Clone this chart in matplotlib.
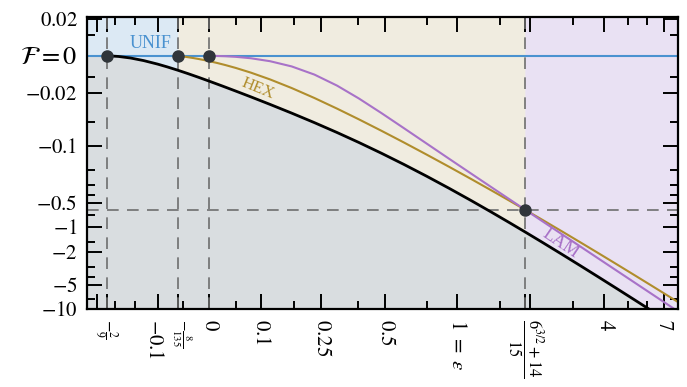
import numpy as np
import matplotlib
matplotlib.use('Agg')
from matplotlib import pyplot as plt
from matplotlib.ticker import FixedLocator, FixedFormatter
from matplotlib.transforms import ScaledTranslation

plt.rcParams['font.family'] = ['Liberation Serif', 'DejaVu Serif']
plt.rcParams['mathtext.fontset'] = 'stix'

# --- curves (epsilon, free energy) ---
black_x = [-0.2222, -0.21, -0.19, -0.16, -0.13, -0.1, -0.08, -0.0593, -0.04, -0.02, 0, 0.025, 0.05, 0.08, 0.12,
           0.17, 0.23, 0.3, 0.38, 0.48, 0.6, 0.75, 0.93, 1.15, 1.4, 1.65, 1.913, 2.25, 2.7, 3.2, 3.8, 4.5, 5.3,
           6.2, 7.1, 8.0]
black_y = [0, -3.735e-05, -0.0002596, -0.0009679, -0.002126, -0.003735, -0.005057, -0.006636, -0.008301,
           -0.01022, -0.01235, -0.01528, -0.01853, -0.02283, -0.02928, -0.03846, -0.05113, -0.06818, -0.09067,
           -0.1233, -0.169, -0.2363, -0.3319, -0.4707, -0.6579, -0.8763, -1.14, -1.528, -2.135, -2.928, -4.045,
           -5.575, -7.624, -10.31, -13.4, -16.9]

hex_x = [-0.0593, -0.05, -0.04, -0.03, -0.02, -0.01, 0, 0.015, 0.03, 0.05, 0.08, 0.12, 0.17, 0.23, 0.3, 0.38,
         0.48, 0.6, 0.75, 0.93, 1.15, 1.4, 1.65, 1.913, 2.25, 2.7, 3.2, 3.8, 4.5, 5.3, 6.2, 7.1, 8.0]
hex_y = [0, -0.00025, -0.0005783, -0.0009586, -0.001386, -0.001857, -0.00237, -0.003215, -0.004145, -0.005512,
         -0.007826, -0.01138, -0.01654, -0.02373, -0.03347, -0.04631, -0.06485, -0.09066, -0.1283, -0.181,
         -0.2565, -0.3568, -0.4723, -0.6099, -0.8102, -1.119, -1.517, -2.07, -2.818, -3.808, -5.091, -6.553, -8.192]

lam_x = [0, 0.015, 0.03, 0.05, 0.08, 0.12, 0.17, 0.23, 0.3, 0.38, 0.48, 0.6, 0.75, 0.93, 1.15, 1.4, 1.65, 1.913,
         2.25, 2.7, 3.2, 3.8, 4.5, 5.3, 6.2, 7.1, 7.75, 8.0]
lam_y = [0, -3.75e-05, -0.00015, -0.0004167, -0.001067, -0.0024, -0.004817, -0.008817, -0.015, -0.02407, -0.0384,
         -0.06, -0.09375, -0.1442, -0.2204, -0.3267, -0.4537, -0.6099, -0.8438, -1.215, -1.707, -2.407, -3.375,
         -4.682, -6.407, -8.402, -10.01, -10.67]

# transition points
trans_x = [-2 / 9, -8 / 135, 0, (6**1.5 + 14) / 15]
trans_y = [0, 0, 0, -0.6099]

x_major = [-0.25, -2 / 9, -0.1, -8 / 135, 0, 0.1, 0.25, 0.5, 1, (6**1.5 + 14) / 15, 2, 4, 7]
x_labels = ['', r'$-\frac{2}{9}$', r'$-0.1$', r'$-\frac{8}{135}$', r'$0$', r'$0.1$', r'$0.25$', r'$0.5$',
            r'$1\ =\ \epsilon$', r'$\frac{6^{3/2}+14}{15}$', '', r'$4$', r'$7$']
x_minor = [-0.2, -0.15, -0.05, 0.05, 0.175, 0.375, 0.75, 1.5, 3, 5, 6]

y_major = [0.02, 0, -0.02, -0.1, -0.5, -1, -2, -5, -10]
y_labels = [r'$0.02$', r'$\mathcal{F}=0$', r'$-0.02$', r'$-0.1$', r'$-0.5$', r'$-1$', r'$-2$', r'$-5$', r'$-10$']
y_minor = [0.01, -0.01, -0.05, -0.2, -0.3, -0.4, -0.7, -1.5, -3, -4, -7.5]

XMIN, XMAX = -0.28, 8
YMIN, YMAX = -10, 0.021

C_UNIF = '#4a92d0'
C_HEX = '#b08d2c'
C_LAM = '#a872c8'


def shade(ax, bx, by):
    """ Grey below the lower curve, phase-coloured bands above it. """
    bx = np.array(bx)
    by = np.array(by)
    ax.fill_between(bx, -30, by, color='#d9dde0', lw=0)
    bands = [(XMIN, trans_x[1], '#dce9f4'),
             (trans_x[1], trans_x[3], '#f0ece0'),
             (trans_x[3], XMAX, '#e9e1f3')]
    for x0, x1, col in bands:
        m = (bx >= x0 - 1e-3) & (bx <= x1 + 1e-3)
        ax.fill_between(bx[m], by[m], 1, color=col, lw=0)


fig = plt.figure(figsize=(6.87, 3.87), dpi=100)
ax = fig.add_axes([0.1271, 0.2008, 0.8602, 0.7545])
ax.set_xscale('asinh', linear_width=0.2)
ax.set_yscale('asinh', linear_width=0.016)

# lower boundary: zero left of the first transition, then the black curve
shade(ax, [XMIN] + black_x, [0] + black_y)

for xv in trans_x:
    ax.axvline(xv, color='#6e6e6e', lw=1.2, ls=(0, (7, 5)), zorder=2)
ax.axhline(trans_y[3], color='#6e6e6e', lw=1.2, ls=(0, (7, 5)), zorder=2)

ax.axhline(0, color=C_UNIF, lw=1.5, zorder=3)
ax.plot(black_x, black_y, color='k', lw=2, zorder=4)
ax.plot(hex_x, hex_y, color=C_HEX, lw=1.5, zorder=4)
ax.plot(lam_x, lam_y, color=C_LAM, lw=1.5, zorder=4)
ax.plot(trans_x, trans_y, 'o', color='#30353a', ms=8, zorder=5)

ax.text(-0.116, 0.0055, 'UNIF', color=C_UNIF, fontsize=13, ha='center', va='center')
ax.text(0.094, -0.0172, 'HEX', color=C_HEX, fontsize=12, ha='center', va='center', rotation=-22)
ax.text(2.67, -1.56, 'LAM', color=C_LAM, fontsize=13, ha='center', va='center', rotation=-34)

ax.set_xlim(XMIN, XMAX)
ax.set_ylim(YMIN, YMAX)

ax.xaxis.set_major_locator(FixedLocator(x_major))
ax.xaxis.set_major_formatter(FixedFormatter(x_labels))
ax.xaxis.set_minor_locator(FixedLocator(x_minor))
ax.xaxis.set_minor_formatter(FixedFormatter([]))
ax.yaxis.set_major_locator(FixedLocator(y_major))
ax.yaxis.set_major_formatter(FixedFormatter(y_labels))
ax.yaxis.set_minor_locator(FixedLocator(y_minor))
ax.yaxis.set_minor_formatter(FixedFormatter([]))

ax.tick_params(which='both', direction='in', top=True, right=True, width=1.4, pad=7, labelsize=15)
ax.tick_params(which='major', length=10.5)
ax.tick_params(which='minor', length=5.5)
xl = ax.get_xticklabels()
for lab in xl:
    lab.set_rotation(-90)
xl[1].set_fontsize(12)
xl[3].set_fontsize(11)
xl[9].set_fontsize(17)
# nudge the two crowded labels apart, as in the original
xl[2].set_transform(xl[2].get_transform() + ScaledTranslation(-3 / 72, 0, fig.dpi_scale_trans))
xl[3].set_transform(xl[3].get_transform() + ScaledTranslation(2.5 / 72, 0, fig.dpi_scale_trans))
ax.get_yticklabels()[1].set_fontsize(19)
for sp in ax.spines.values():
    sp.set_linewidth(1.6)
    sp.set_zorder(6)

fig.savefig('out.png')
